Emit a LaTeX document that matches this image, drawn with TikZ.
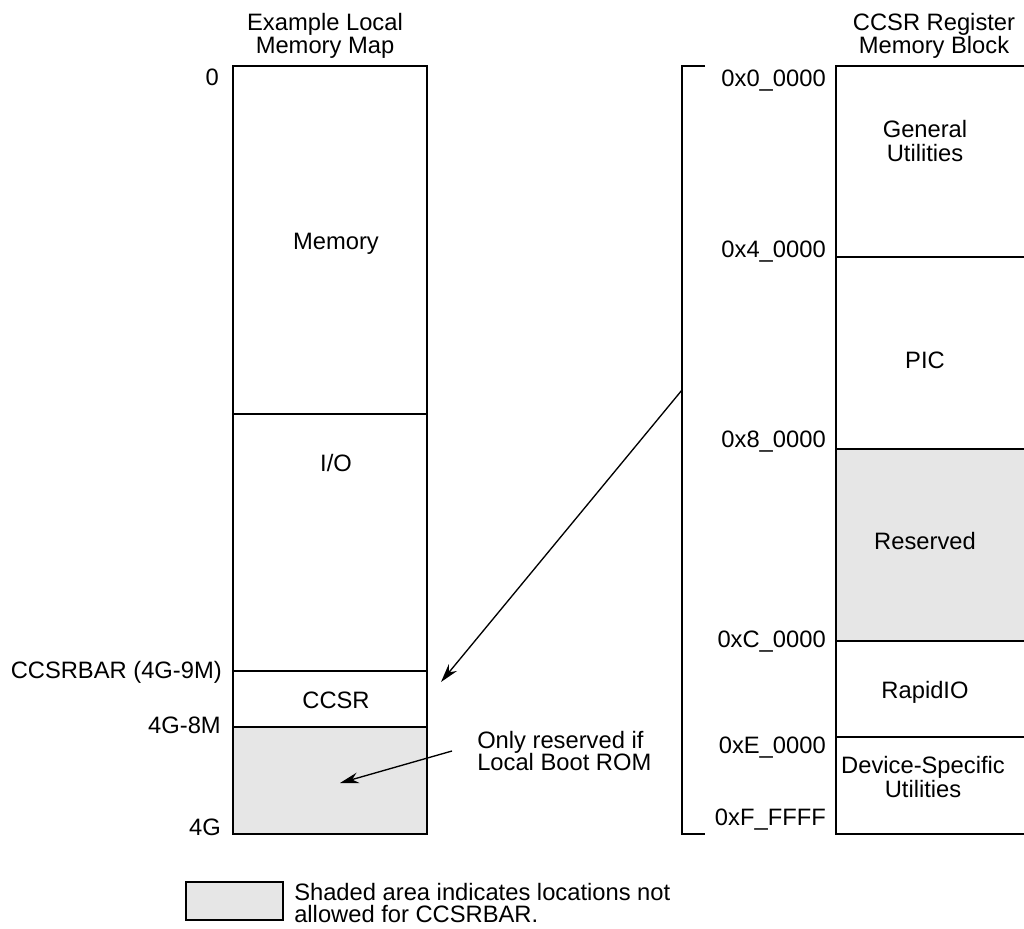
\documentclass[tikz,border=0pt]{standalone}
\usepackage{fontspec}
\setmainfont{Liberation Sans}
\usetikzlibrary{arrows.meta}
\definecolor{ShadeGray}{HTML}{E6E6E6}
\tikzset{
  mapline/.style={line width=1.5pt,draw=black},
  shaded/.style={fill=ShadeGray},
  lbl/.style={font=\fontsize{17.8}{17.5}\selectfont,align=center,inner sep=0pt},
  addr/.style={font=\fontsize{17.8}{17.5}\selectfont,anchor=base east,inner sep=0pt},
  note/.style={font=\fontsize{17.8}{17}\selectfont,align=left,anchor=west,inner sep=0pt},
  ptr/.style={line width=1pt,-{Stealth[length=14pt,width=8pt]}},
}

\begin{document}
\begin{tikzpicture}[x=0.75pt,y=-0.75pt]
  \useasboundingbox (0,0) rectangle (1024,928);
  \node[lbl] (ltitle) at (325,36) {Example Local\\Memory Map};
  \node[lbl] (rtitle) at (934,36) {CCSR Register\\Memory Block};
  \fill[shaded] (233,727) rectangle (427,834);
  \draw[mapline] (233,66) rectangle (427,834);
  \draw[mapline] (233,414) -- (427,414);
  \draw[mapline] (233,671) -- (427,671);
  \draw[mapline] (233,727) -- (427,727);
  \node[lbl,anchor=base] (mem) at (336,249) {Memory};
  \node[lbl,anchor=base] (io) at (336,471) {I/O};
  \node[lbl,anchor=base] (ccsr) at (336,708) {CCSR};
  \node[addr] (a0) at (219,85) {0};
  \node[addr] (abar) at (222,678) {CCSRBAR (4G-9M)};
  \node[addr] (a8m) at (221,733) {4G-8M};
  \node[addr] (a4g) at (221,835) {4G};
  \draw[mapline] (705,66) -- (682,66) -- (682,834) -- (705,834);
  \fill[shaded] (836,449) rectangle (1026,641);
  \draw[mapline] (1026,66) -- (836,66) -- (836,834) -- (1026,834);
  \draw[mapline] (836,257) -- (1026,257);
  \draw[mapline] (836,449) -- (1026,449);
  \draw[mapline] (836,641) -- (1026,641);
  \draw[mapline] (836,737) -- (1026,737);
  \node[lbl] (gen) at (925,141) {General\\Utilities};
  \node[lbl,anchor=base] (pic) at (925,368) {PIC};
  \node[lbl,anchor=base] (rsv) at (925,549) {Reserved};
  \node[lbl,anchor=base] (rio) at (925,698) {RapidIO};
  \node[lbl] (dev) at (923,777) {Device-Specific\\Utilities};
  \node[addr] (r0) at (826,86) {0x0\_0000};
  \node[addr] (r4) at (826,257) {0x4\_0000};
  \node[addr] (r8) at (826,447) {0x8\_0000};
  \node[addr] (rc) at (826,647) {0xC\_0000};
  \node[addr] (re) at (826,753) {0xE\_0000};
  \node[addr] (rf) at (826,825) {0xF\_FFFF};
  \coordinate (brkmid) at (682,390);
  \coordinate (ccsrtip) at (441,682);
  \draw[ptr] (brkmid) -- (ccsrtip);
  \node[note] (boot) at (477,751) {Only reserved if\\Local Boot ROM};
  \coordinate (boottail) at (452,751);
  \coordinate (boottip) at (340,783);
  \draw[ptr] (boottail) -- (boottip);
  \fill[shaded] (186,882) rectangle (283,920);
  \draw[mapline] (186,882) rectangle (283,920);
  \node[note] (legend) at (294,903) {Shaded area indicates locations not\\allowed for CCSRBAR.};
\end{tikzpicture}
\end{document}
